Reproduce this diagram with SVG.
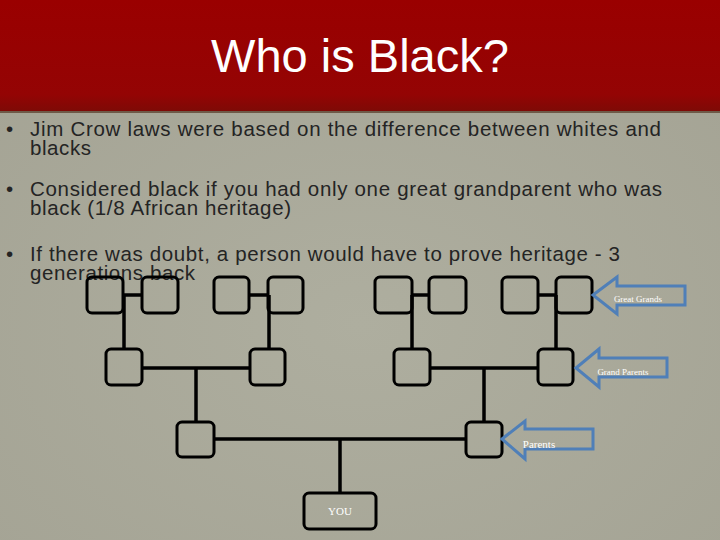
<svg xmlns="http://www.w3.org/2000/svg" width="720" height="540" viewBox="0 0 720 540">
<defs>
<linearGradient id="band" x1="0" y1="0" x2="0" y2="1">
<stop offset="0" stop-color="#9a0000"/>
<stop offset="0.85" stop-color="#940404"/>
<stop offset="1" stop-color="#7e0a06"/>
</linearGradient>
<radialGradient id="bg" cx="0.5" cy="0.6" r="0.8">
<stop offset="0" stop-color="#aeae9f"/>
<stop offset="1" stop-color="#a3a293"/>
</radialGradient>
<style>
.body{font-family:"Liberation Sans",Arial,sans-serif;font-size:20.5px;fill:#242424}
.box{fill:none;stroke:#000;stroke-width:3}
.con line{stroke:#000;stroke-width:3.5}
.arrow{fill:none;stroke:#4f7fb8;stroke-width:3}
.lbl{font-family:"Liberation Serif","Times New Roman",serif;fill:#fff;text-anchor:middle}
</style>
</defs>
<rect x="0" y="0" width="720" height="540" fill="url(#bg)"/>
<rect x="0" y="0" width="720" height="111" fill="url(#band)"/>
<rect x="0" y="111" width="720" height="2" fill="#6e5a48"/>
<text x="360" y="72" font-family="Liberation Sans,Arial,sans-serif" font-size="47" fill="#fff" text-anchor="middle">Who is Black?</text>

<g id="bullets" class="body">
<text x="6" y="136">•</text>
<text><tspan x="30" y="136" textLength="631" lengthAdjust="spacing">Jim Crow laws were based on the difference between whites and</tspan><tspan x="30" y="155" textLength="61" lengthAdjust="spacing">blacks</tspan></text>
<text x="6" y="196">•</text>
<text><tspan x="30" y="196" textLength="632" lengthAdjust="spacing">Considered black if you had only one great grandparent who was</tspan><tspan x="30" y="215" textLength="261" lengthAdjust="spacing">black (1/8 African heritage)</tspan></text>
<text x="6" y="261">•</text>
<text><tspan x="30" y="261" textLength="590" lengthAdjust="spacing">If there was doubt, a person would have to prove heritage - 3</tspan><tspan x="30" y="280" textLength="165" lengthAdjust="spacing">generations back</tspan></text>
</g>

<g id="connectors" class="con">
<line x1="123" y1="295" x2="142" y2="295"/>
<line x1="249" y1="295" x2="268" y2="295"/>
<line x1="412" y1="295" x2="429" y2="295"/>
<line x1="538" y1="295" x2="556" y2="295"/>
<line x1="124" y1="295" x2="124" y2="349"/>
<line x1="269" y1="295" x2="269" y2="349"/>
<line x1="412" y1="295" x2="412" y2="349"/>
<line x1="556" y1="295" x2="556" y2="349"/>
<line x1="142" y1="368" x2="250" y2="368"/>
<line x1="430" y1="368" x2="538" y2="368"/>
<line x1="196" y1="368" x2="196" y2="422"/>
<line x1="484" y1="368" x2="484" y2="422"/>
<line x1="214" y1="439" x2="466" y2="439"/>
<line x1="340" y1="439" x2="340" y2="493"/>
</g>

<g id="gg1"><rect class="box" x="87" y="277" width="36" height="36" rx="5"/></g>
<g id="gg2"><rect class="box" x="142" y="277" width="36" height="36" rx="5"/></g>
<g id="gg3"><rect class="box" x="214" y="277" width="35" height="36" rx="5"/></g>
<g id="gg4"><rect class="box" x="268" y="277" width="35" height="36" rx="5"/></g>
<g id="gg5"><rect class="box" x="375" y="277" width="37" height="36" rx="5"/></g>
<g id="gg6"><rect class="box" x="429" y="277" width="37" height="36" rx="5"/></g>
<g id="gg7"><rect class="box" x="502" y="277" width="36" height="36" rx="5"/></g>
<g id="gg8"><rect class="box" x="556" y="277" width="36" height="36" rx="5"/></g>

<g id="g1"><rect class="box" x="106" y="349" width="36" height="36" rx="5"/></g>
<g id="g2"><rect class="box" x="250" y="349" width="35" height="36" rx="5"/></g>
<g id="g3"><rect class="box" x="394" y="349" width="36" height="36" rx="5"/></g>
<g id="g4"><rect class="box" x="538" y="349" width="35" height="36" rx="5"/></g>

<g id="p1"><rect class="box" x="177" y="422" width="37" height="35" rx="5"/></g>
<g id="p2"><rect class="box" x="466" y="422" width="36" height="35" rx="5"/></g>

<g id="you">
<rect class="box" x="304" y="493" width="72" height="36" rx="5"/>
<text class="lbl" x="340" y="515" font-size="11">YOU</text>
</g>

<g id="arrow-great-grands">
<polygon class="arrow" points="593,295 617,277 617,286 685,286 685,305 617,305 617,314"/>
<text class="lbl" x="638" y="302" font-size="9">Great Grands</text>
</g>
<g id="arrow-grand-parents">
<polygon class="arrow" points="576,368 599,349 599,358 667,358 667,377 599,377 599,387"/>
<text class="lbl" x="623" y="375" font-size="9">Grand Parents</text>
</g>
<g id="arrow-parents">
<polygon class="arrow" points="502,439 525,421 525,429 593,429 593,449 525,449 525,459"/>
<text class="lbl" x="539" y="448" font-size="11">Parents</text>
</g>
</svg>
